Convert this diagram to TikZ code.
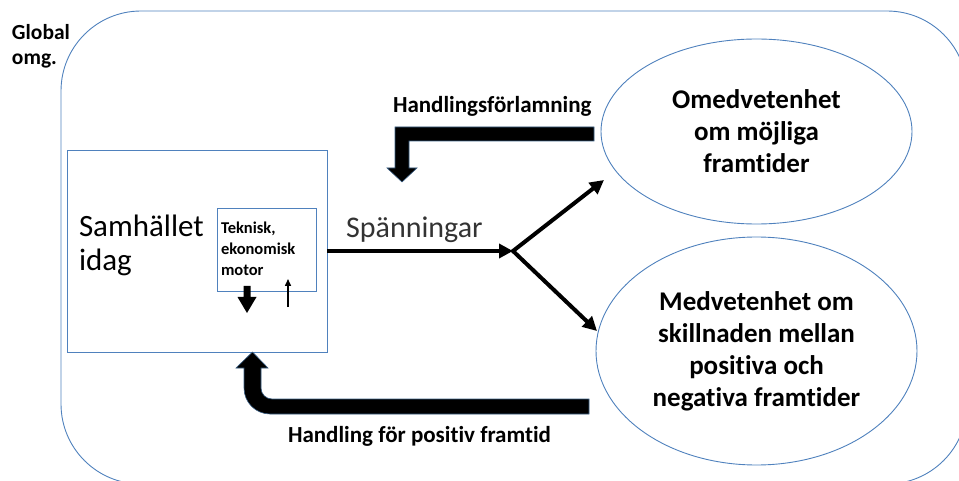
\documentclass[tikz,border=0pt]{standalone}
\usepackage{fontspec}
\setmainfont{Carlito}[Ligatures={NoCommon}]
\usetikzlibrary{shapes.geometric,arrows.meta}
\definecolor{outl}{HTML}{4F81BD}
\definecolor{arrowedge}{HTML}{3A5F85}
\begin{document}
\begin{tikzpicture}[x=1pt,y=-1pt,
  frame/.style={draw=outl, line width=0.9pt, inner sep=0pt, outer sep=0pt},
  lbl/.style={inner sep=0pt, outer sep=0pt, align=left, font=\bfseries},
  blockarrow/.style={fill=black, draw=arrowedge, line width=0.6pt, line join=miter},
  thinarrow/.style={line width=4pt, {Triangle[length=14pt,width=14pt]}-{Triangle[length=14pt,width=14pt]}},
  harrow/.style={line width=4pt, -{Triangle[length=14pt,width=14pt]}}
]
\useasboundingbox (0,0) rectangle (959,481);
\begin{scope}
\clip (0,0) rectangle (959,481);
\node[frame, rounded corners=80pt, anchor=north west, minimum width=906pt, minimum height=473pt] (global) at (61,11) {};
\end{scope}
\node[lbl, anchor=base west, font=\bfseries\fontsize{21.5}{25}\selectfont] (globaltxt) at (12,65) {Global\\omg.};

% Samhallet box
\node[frame, anchor=north west, minimum width=260pt, minimum height=202pt] (samh) at (67,150) {};
\node[lbl, anchor=base west, font=\fontsize{31}{35}\selectfont] (samhtxt) at (79,271) {Samhället\\idag};

% motor box
\node[frame, anchor=north west, minimum width=99pt, minimum height=83pt] (motor) at (217,208) {};
\node[lbl, anchor=base west, font=\bfseries\fontsize{16.5}{21}\selectfont] (motortxt) at (221,276) {Teknisk,\\ekonomisk\\motor};
\draw[blockarrow, draw=none] (243.5,286) -- (250.5,286) -- (250.5,297) -- (256.5,297) -- (247,313) -- (237.5,297) -- (243.5,297) -- cycle;
\coordinate (upa) at (288,307);
\coordinate (upb) at (288,279);
\draw[line width=1.5pt, -{Triangle[length=7pt,width=6pt]}] (upa) -- (upb);

% ellipses
\node[frame, ellipse, minimum width=311pt, minimum height=185pt, align=center,
      font=\bfseries\fontsize{27}{32}\selectfont] (omed) at (756.5,131.5) {Omedvetenhet\\om möjliga\\framtider};
\node[frame, ellipse, minimum width=321pt, minimum height=228pt, align=center,
      font=\bfseries\fontsize{27}{32}\selectfont] (medv) at (756.5,351) {Medvetenhet om\\skillnaden mellan\\positiva och\\negativa framtider};

% Spanningar
\node[inner sep=0pt, anchor=base west, text=black!80, font=\fontsize{30}{34}\selectfont] (span) at (346,238) {Spänningar};
\coordinate (br) at (513,251);
\coordinate (t1) at (604,180);
\coordinate (t2) at (597,331);
\draw[harrow] (samh.east) -- (br);
\draw[thinarrow, line join=miter] (t1) -- (br) -- (t2);

% top block arrow
\node[lbl, anchor=base west, font=\bfseries\fontsize{23}{27}\selectfont] (forl) at (393,113) {Handlingsförlamning};
\draw[blockarrow] (594,127) -- (395,127) -- (395,168) -- (387,168) -- (402,182) -- (417,168) -- (409,168) -- (409,141) -- (594,141) -- cycle;

% bottom block arrow
\draw[blockarrow] (589,399) -- (272,399) .. controls (265.9,399) and (261,394.1) .. (261,388) -- (261,368) -- (268,368) -- (252.5,352) -- (236,368) -- (244,368) -- (244,388) .. controls (244,402.4) and (255.6,414) .. (270,414) -- (589,414) -- cycle;
\node[lbl, anchor=base west, font=\bfseries\fontsize{23}{27}\selectfont] (posf) at (288,442) {Handling för positiv framtid};
\end{tikzpicture}
\end{document}
